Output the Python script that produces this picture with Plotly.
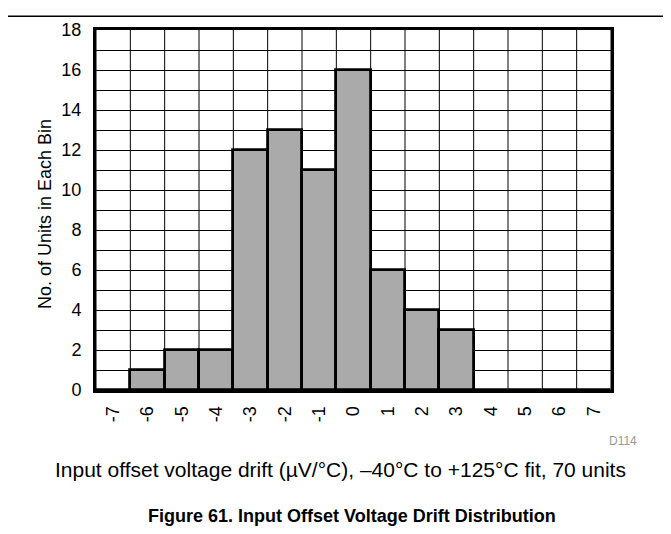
import plotly.graph_objects as go

bins = [-7, -6, -5, -4, -3, -2, -1, 0, 1, 2, 3, 4, 5, 6, 7]
counts = [0, 1, 2, 2, 12, 13, 11, 16, 6, 4, 3, 0, 0, 0, 0]
y_ticks = list(range(0, 19))
y_ticktext = [str(v) if v % 2 == 0 else "" for v in y_ticks]
x_ticktext = [str(b) for b in bins]

FONT = "Liberation Sans, Arial, sans-serif"
PW, PH = 515, 364  # plot area size in px

fig = go.Figure()
fig.add_trace(go.Bar(
    x=bins, y=counts, width=1,
    marker=dict(color="#aaaaaa", line=dict(color="black", width=2.8)),
    showlegend=False, hoverinfo="skip",
))

# vertical grid lines at bin edges
edges = [b - 0.5 for b in bins] + [bins[-1] + 0.5]
shapes = []
for e in edges:
    shapes.append(dict(type="line", xref="x", yref="paper", x0=e, x1=e, y0=0, y1=1,
                       line=dict(color="black", width=1), layer="below"))
# top separator line of the page
shapes.append(dict(type="line", xref="paper", yref="paper", x0=-110/PW, x1=590/PW,
                   y0=(390-12)/PH, y1=(390-12)/PH, line=dict(color="black", width=1.5)))

fig.update_layout(
    width=663, height=526,
    margin=dict(l=88, r=60, t=18, b=144),
    paper_bgcolor="white", plot_bgcolor="white",
    bargap=0,
    font=dict(family=FONT, color="black", size=17),
    shapes=shapes,
    xaxis=dict(
        range=[-7.5, 7.5], tickvals=bins, ticktext=x_ticktext, tickangle=-90,
        showgrid=False, zeroline=False, ticks="outside", ticklen=6,
        tickcolor="rgba(0,0,0,0)", showline=True, linewidth=3,
        linecolor="black", mirror=True, tickfont=dict(size=18),
    ),
    yaxis=dict(
        range=[0, 18], tickvals=y_ticks, ticktext=y_ticktext, showgrid=True,
        gridcolor="black", gridwidth=1, zeroline=False, ticks="outside", ticklen=8,
        tickcolor="rgba(0,0,0,0)", showline=True, linewidth=3, linecolor="black",
        mirror=True, tickfont=dict(size=18),
    ),
    annotations=[
        dict(text="No. of Units in Each Bin", xref="paper", yref="paper",
             x=(45-96)/PW, y=(390-212)/PH, textangle=-90, showarrow=False,
             font=dict(size=18), xanchor="center", yanchor="middle"),
        dict(text="D114", xref="paper", yref="paper", x=(623-96)/PW, y=(390-442)/PH,
             showarrow=False, font=dict(size=12, color="#999999"),
             xanchor="center", yanchor="middle"),
        dict(text="Input offset voltage drift (µV/°C), –40°C to +125°C fit, 70 units",
             xref="paper", yref="paper", x=(340-96)/PW, y=(390-470)/PH,
             showarrow=False, font=dict(size=21), xanchor="center", yanchor="middle"),
        dict(text="<b>Figure 61. Input Offset Voltage Drift Distribution</b>",
             xref="paper", yref="paper", x=(352-96)/PW, y=(390-517)/PH,
             showarrow=False, font=dict(size=18), xanchor="center", yanchor="middle"),
    ],
)

fig.write_html("out.html")
